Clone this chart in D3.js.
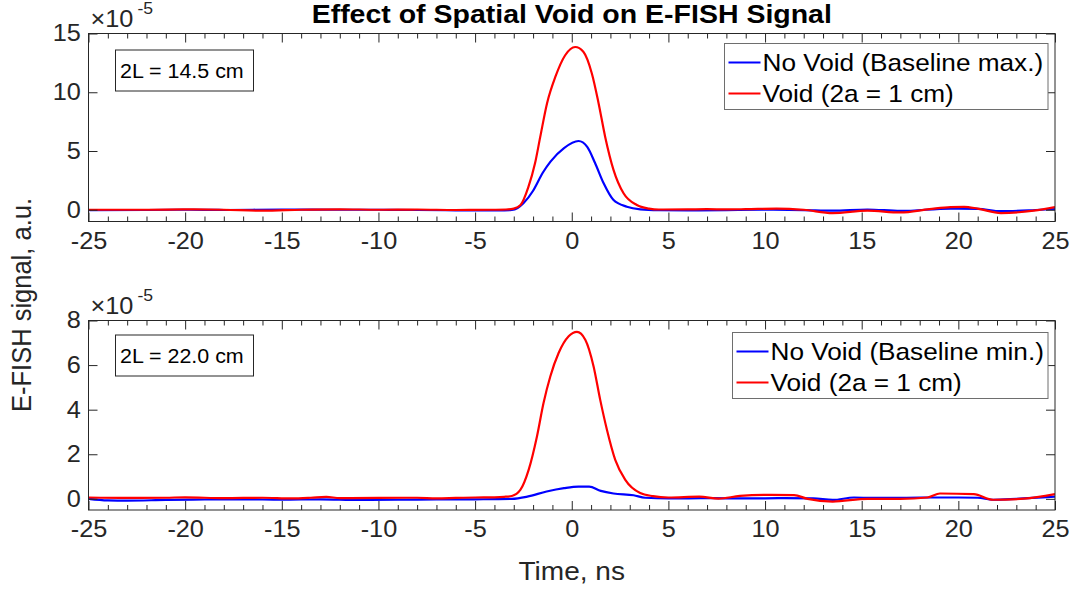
<!DOCTYPE html>
<html>
<head>
<meta charset="utf-8">
<script src="https://cdn.jsdelivr.net/npm/d3@7"></script>
<style>
  body { margin: 0; background: #fff; }
  text { font-family: "Liberation Sans", Arial, sans-serif; }
</style>
</head>
<body>
<div id="chart"></div>
<script>
// tick values
const timeTicks = [-25, -20, -15, -10, -5, 0, 5, 10, 15, 20, 25];
const timeMinorTicks = [-24, -23, -22, -21, -19, -18, -17, -16, -14, -13, -12, -11, -9, -8, -7, -6, -4, -3, -2, -1,
    1, 2, 3, 4, 6, 7, 8, 9, 11, 12, 13, 14, 16, 17, 18, 19, 21, 22, 23, 24];
const topTicks = [0, 5, 10, 15];
const bottomTicks = [0, 2, 4, 6, 8];

// series, [time ns, signal x1e-5]
const topBaseline = [[-25,-0.03],[-22,-0.02],[-20,0],[-18,-0.02],[-15,0.02],[-12,0],[-10,0],[-8,-0.02],[-6,-0.05],
    [-4,-0.06],[-3.5,-0.05],[-3.1,-0.02],[-2.8,0.15],[-2.5,0.55],[-2,1.62],[-1.5,3.15],[-1.1,4.1],[-0.4,5.25],
    [0.35,5.85],[0.8,5.35],[1.2,4],[1.65,2.25],[2.15,0.85],[2.85,0.26],[3.55,0.04],[4.5,-0.03],[6,-0.05],[8,-0.03],
    [10,0],[12,-0.03],[13.5,-0.08],[15.3,0.02],[17,-0.1],[19.6,0.1],[21,0.08],[22.2,-0.12],[24,-0.02],[25,0.06]];
const topVoid = [[-25,0],[-22,0],[-20,0.03],[-18,0],[-16,-0.08],[-14,0],[-12,0.04],[-10,0],[-8,0.02],[-6,-0.02],
    [-4,0],[-3.4,0.02],[-3,0.1],[-2.65,0.4],[-2.25,1.9],[-1.9,3.95],[-1.63,6.2],[-1.28,9.05],[-0.85,11.3],
    [-0.34,13.15],[0.18,13.85],[0.6,13.45],[1.04,11.6],[1.39,9.05],[1.73,6.2],[2.16,3.4],[2.68,1.4],[3.37,0.4],
    [4,0.1],[4.5,0.02],[6,0.03],[7,0.05],[8,0.03],[9,0.05],[10.6,0.1],[12,0],[13.5,-0.28],[15.3,-0.08],[17,-0.23],
    [18.5,0.05],[19.6,0.23],[20.3,0.25],[21,0.1],[22.2,-0.28],[23.9,-0.08],[25,0.23]];
const bottomBaseline = [[-25,0],[-24,-0.07],[-23,-0.08],[-21,-0.05],[-19,-0.03],[-17,-0.02],[-15,-0.04],[-13,-0.02],
    [-11,-0.05],[-9,-0.04],[-7,-0.03],[-5,-0.02],[-3.1,0],[-2.3,0.1],[-1.3,0.33],[-0.4,0.48],[0.35,0.55],[0.9,0.55],
    [1.5,0.36],[2.16,0.24],[3.2,0.16],[3.8,0.05],[5,0.02],[7,0.03],[9,0.02],[11,0.03],[12.5,0.02],[13.5,-0.05],
    [14.6,0.06],[16,0.04],[18,0.06],[20,0.06],[21,0.05],[21.8,-0.04],[23,0],[25,0.1]];
const bottomVoid = [[-25,0.06],[-23,0.04],[-21,0.05],[-20,0.07],[-18,0.03],[-16,0.05],[-14.5,0.02],[-13.5,0.05],
    [-12.7,0.09],[-12,0.03],[-10,0.04],[-8,0.05],[-7,0.02],[-6,0.04],[-5,0.06],[-4,0.07],[-3.5,0.09],[-3.1,0.13],
    [-2.66,0.4],[-2.23,1.3],[-1.8,2.8],[-1.46,4.3],[-1.11,5.49],[-0.68,6.54],[-0.16,7.29],[0.27,7.49],[0.7,7.14],
    [1.13,5.94],[1.47,4.45],[1.82,3.1],[2.25,1.75],[2.77,0.85],[3.54,0.26],[4.2,0.12],[5,0.06],[6.6,0.1],[7.6,0.01],
    [8.7,0.13],[10.3,0.18],[11.5,0.17],[12.2,0],[13.5,-0.12],[15.3,0],[17,0],[18.4,0.06],[19.05,0.24],[20.8,0.21],
    [21.8,-0.04],[23.4,0.01],[25,0.21]];

const width = 1076, height = 592;
const left = 88.5, right = 1055;
const sx = 1.1; // text in the reference is a bit wider than tall
const axisColor = "#262626";

const svg = d3.select("#chart").append("svg")
    .attr("width", width)
    .attr("height", height);

const x = d3.scaleLinear().domain([-25, 25]).range([left, right]);

function stretched(g, px, py, str, size, opts = {}) {
    return g.append("text")
        .attr("transform", `translate(${px},${py}) scale(${sx},1)`)
        .attr("font-size", size)
        .attr("text-anchor", opts.anchor || "start")
        .attr("dominant-baseline", opts.baseline || "auto")
        .attr("font-weight", opts.weight || "normal")
        .attr("fill", opts.fill || axisColor)
        .text(str);
}

function drawPanel(p) {
    const y = d3.scaleLinear().domain(p.domain).range([p.bottom, p.top]);
    const g = svg.append("g");

    g.append("clipPath").attr("id", p.id)
        .append("rect")
        .attr("x", left).attr("y", p.top)
        .attr("width", right - left).attr("height", p.bottom - p.top);

    // lines
    const line = d3.line()
        .x(d => x(d[0]))
        .y(d => y(d[1]))
        .curve(d3.curveMonotoneX);

    const series = [
        { data: p.baseline, color: "#0000ff" },
        { data: p.void, color: "#ff0000" }
    ];
    g.append("g").attr("clip-path", `url(#${p.id})`)
        .selectAll("path")
        .data(series)
        .join("path")
        .attr("d", d => line(d.data))
        .attr("fill", "none")
        .attr("stroke", d => d.color)
        .attr("stroke-width", 2.2)
        .attr("stroke-linejoin", "round");

    // x axis bottom with labels, ticks point inward
    const xb = g.append("g")
        .attr("transform", `translate(0,${p.bottom})`)
        .call(d3.axisBottom(x).tickValues(timeTicks).tickFormat(d => String(d))
            .tickSizeInner(-9).tickSizeOuter(0).tickPadding(11));
    xb.selectAll("text")
        .attr("font-size", 23)
        .attr("fill", axisColor)
        .attr("transform", `scale(${sx},1)`);
    g.append("g")
        .attr("transform", `translate(0,${p.bottom})`)
        .call(d3.axisBottom(x).tickValues(timeMinorTicks).tickFormat("").tickSizeInner(-5).tickSizeOuter(0));

    // x axis top, ticks only
    g.append("g")
        .attr("transform", `translate(0,${p.top})`)
        .call(d3.axisTop(x).tickValues(timeTicks).tickFormat("").tickSizeInner(-9).tickSizeOuter(0));
    g.append("g")
        .attr("transform", `translate(0,${p.top})`)
        .call(d3.axisTop(x).tickValues(timeMinorTicks).tickFormat("").tickSizeInner(-5).tickSizeOuter(0));

    // y axes
    const yl = g.append("g")
        .attr("transform", `translate(${left},0)`)
        .call(d3.axisLeft(y).tickValues(p.ticks).tickFormat(d => String(d))
            .tickSizeInner(-9).tickSizeOuter(0).tickPadding(7));
    yl.selectAll("text")
        .attr("font-size", 23)
        .attr("fill", axisColor)
        .attr("transform", `scale(${sx},1)`);
    g.append("g")
        .attr("transform", `translate(${right},0)`)
        .call(d3.axisRight(y).tickValues(p.ticks).tickFormat("").tickSizeInner(-9).tickSizeOuter(0));

    g.selectAll(".domain").remove();
    g.selectAll(".tick line").attr("stroke", axisColor);

    // box
    g.append("rect")
        .attr("x", left).attr("y", p.top)
        .attr("width", right - left).attr("height", p.bottom - p.top)
        .attr("fill", "none")
        .attr("stroke", axisColor)
        .attr("stroke-width", 1);

    // exponent
    stretched(g, left + 2, p.top - 7, "\u00d710", 23);
    stretched(g, left + 49, p.top - 20, "-5", 16);

    // length annotation box
    const bx = g.append("g");
    bx.append("rect")
        .attr("x", 115.5).attr("y", p.top + p.boxOffset)
        .attr("width", 138).attr("height", 41)
        .attr("fill", "#fff")
        .attr("stroke", axisColor);
    stretched(bx, 120, p.top + p.boxOffset + 21, p.boxText, 19.5, { baseline: "central", fill: "#000" });

    // legend
    const lg = g.append("g");
    lg.append("rect")
        .attr("x", p.legend.x).attr("y", p.legend.y)
        .attr("width", 1048 - p.legend.x).attr("height", 66)
        .attr("fill", "#fff")
        .attr("stroke", "#6e6e6e");
    const labels = [p.baselineLabel, "Void (2a = 1 cm)"];
    labels.forEach((lab, i) => {
        const ly = p.legend.y + 19 + i * 31;
        lg.append("line")
            .attr("x1", p.legend.x + 4).attr("x2", p.legend.x + 36)
            .attr("y1", ly).attr("y2", ly)
            .attr("stroke", series[i].color)
            .attr("stroke-width", 2);
        stretched(lg, p.legend.x + 38, ly, lab, 23.8, { baseline: "central", fill: "#000" });
    });
}

drawPanel({
    id: "clip-top", top: 33.5, bottom: 221.5, domain: [-1, 15], ticks: topTicks,
    baseline: topBaseline, void: topVoid,
    boxText: "2L = 14.5 cm", boxOffset: 16.5,
    baselineLabel: "No Void (Baseline max.)",
    legend: { x: 724.5, y: 43.5 }
});

drawPanel({
    id: "clip-bottom", top: 320.5, bottom: 510, domain: [-0.5, 8], ticks: bottomTicks,
    baseline: bottomBaseline, void: bottomVoid,
    boxText: "2L = 22.0 cm", boxOffset: 14.5,
    baselineLabel: "No Void (Baseline min.)",
    legend: { x: 732.5, y: 332.5 }
});

// title and axis labels
stretched(svg, (left + right) / 2, 23, "Effect of Spatial Void on E-FISH Signal", 25,
    { anchor: "middle", weight: "bold", fill: "#000" }).attr("transform", `translate(${(left + right) / 2},23) scale(1.14,1)`);
stretched(svg, (left + right) / 2, 571, "Time, ns", 25.5, { anchor: "middle", baseline: "central" });
svg.append("text")
    .attr("transform", "translate(22,305) rotate(-90) scale(1,1.1)")
    .attr("font-size", 25.5)
    .attr("text-anchor", "middle")
    .attr("dominant-baseline", "central")
    .attr("fill", axisColor)
    .text("E-FISH signal, a.u.");
</script>
</body>
</html>
